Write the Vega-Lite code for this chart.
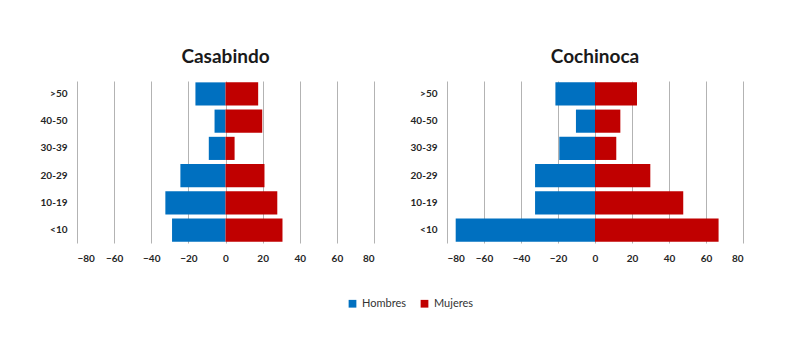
{
  "$schema": "https://vega.github.io/schema/vega-lite/v6.json",
  "padding": {"left": 40, "top": 48, "right": 10, "bottom": 10},
  "background": "white",
  "config": {
    "font": "Lato",
    "view": {"stroke": null},
    "title": {"fontSize": 19, "fontWeight": "bold", "color": "#1a1a1a", "offset": 14, "font": "Lato"},
    "axis": {"labelFont": "Lato", "labelFontSize": 10, "labelColor": "#262626", "labelFontWeight": "bold"}
  },
  "data": {
    "values": [
      {"place": "Casabindo", "age": ">50", "sex": "Hombres", "value": -16.2},
      {"place": "Casabindo", "age": ">50", "sex": "Mujeres", "value": 17.6},
      {"place": "Casabindo", "age": "40-50", "sex": "Hombres", "value": -5.9},
      {"place": "Casabindo", "age": "40-50", "sex": "Mujeres", "value": 19.8},
      {"place": "Casabindo", "age": "30-39", "sex": "Hombres", "value": -9.0},
      {"place": "Casabindo", "age": "30-39", "sex": "Mujeres", "value": 4.9},
      {"place": "Casabindo", "age": "20-29", "sex": "Hombres", "value": -24.3},
      {"place": "Casabindo", "age": "20-29", "sex": "Mujeres", "value": 21.0},
      {"place": "Casabindo", "age": "10-19", "sex": "Hombres", "value": -32.4},
      {"place": "Casabindo", "age": "10-19", "sex": "Mujeres", "value": 27.9},
      {"place": "Casabindo", "age": "<10", "sex": "Hombres", "value": -28.8},
      {"place": "Casabindo", "age": "<10", "sex": "Mujeres", "value": 30.7},
      {"place": "Cochinoca", "age": ">50", "sex": "Hombres", "value": -21.4},
      {"place": "Cochinoca", "age": ">50", "sex": "Mujeres", "value": 22.7},
      {"place": "Cochinoca", "age": "40-50", "sex": "Hombres", "value": -10.3},
      {"place": "Cochinoca", "age": "40-50", "sex": "Mujeres", "value": 13.7},
      {"place": "Cochinoca", "age": "30-39", "sex": "Hombres", "value": -19.3},
      {"place": "Cochinoca", "age": "30-39", "sex": "Mujeres", "value": 11.5},
      {"place": "Cochinoca", "age": "20-29", "sex": "Hombres", "value": -32.4},
      {"place": "Cochinoca", "age": "20-29", "sex": "Mujeres", "value": 29.9},
      {"place": "Cochinoca", "age": "10-19", "sex": "Hombres", "value": -32.4},
      {"place": "Cochinoca", "age": "10-19", "sex": "Mujeres", "value": 47.7},
      {"place": "Cochinoca", "age": "<10", "sex": "Hombres", "value": -75.3},
      {"place": "Cochinoca", "age": "<10", "sex": "Mujeres", "value": 66.8}
    ]
  },
  "spacing": 36,
  "hconcat": [
    {
      "title": "Casabindo",
      "width": 297,
      "height": 162,
      "transform": [{"filter": "datum.place === 'Casabindo'"}],
      "mark": {"type": "bar"},
      "encoding": {
        "y": {"field": "age", "type": "nominal", "sort": [">50", "40-50", "30-39", "20-29", "10-19", "<10"],
              "scale": {"paddingInner": 0.15, "paddingOuter": 0.05},
              "axis": {"title": null, "ticks": false, "domain": false, "labelPadding": 10}},
        "x": {"field": "value", "type": "quantitative", "stack": null,
              "scale": {"domain": [-80, 80], "nice": false},
              "axis": {"title": null, "values": [-80, -60, -40, -20, 0, 20, 40, 60, 80], "ticks": false, "domain": false, "gridColor": "#b3b3b3", "labelPadding": 10}},
        "color": {"field": "sex", "type": "nominal",
                  "scale": {"domain": ["Hombres", "Mujeres"], "range": ["#0070C0", "#C00000"]},
                  "legend": {"title": null, "orient": "none", "direction": "horizontal", "legendX": 270, "legendY": 217, "symbolType": "square", "symbolSize": 60, "labelFontSize": 11, "labelFont": "Lato", "labelColor": "#333", "columnPadding": 12}}
      }
    },
    {
      "title": "Cochinoca",
      "width": 296,
      "height": 162,
      "transform": [{"filter": "datum.place === 'Cochinoca'"}],
      "mark": {"type": "bar"},
      "encoding": {
        "y": {"field": "age", "type": "nominal", "sort": [">50", "40-50", "30-39", "20-29", "10-19", "<10"],
              "scale": {"paddingInner": 0.15, "paddingOuter": 0.05},
              "axis": {"title": null, "ticks": false, "domain": false, "labelPadding": 10}},
        "x": {"field": "value", "type": "quantitative", "stack": null,
              "scale": {"domain": [-80, 80], "nice": false},
              "axis": {"title": null, "values": [-80, -60, -40, -20, 0, 20, 40, 60, 80], "ticks": false, "domain": false, "gridColor": "#b3b3b3", "labelPadding": 10}},
        "color": {"field": "sex", "type": "nominal",
                  "scale": {"domain": ["Hombres", "Mujeres"], "range": ["#0070C0", "#C00000"]}}
      }
    }
  ]
}
